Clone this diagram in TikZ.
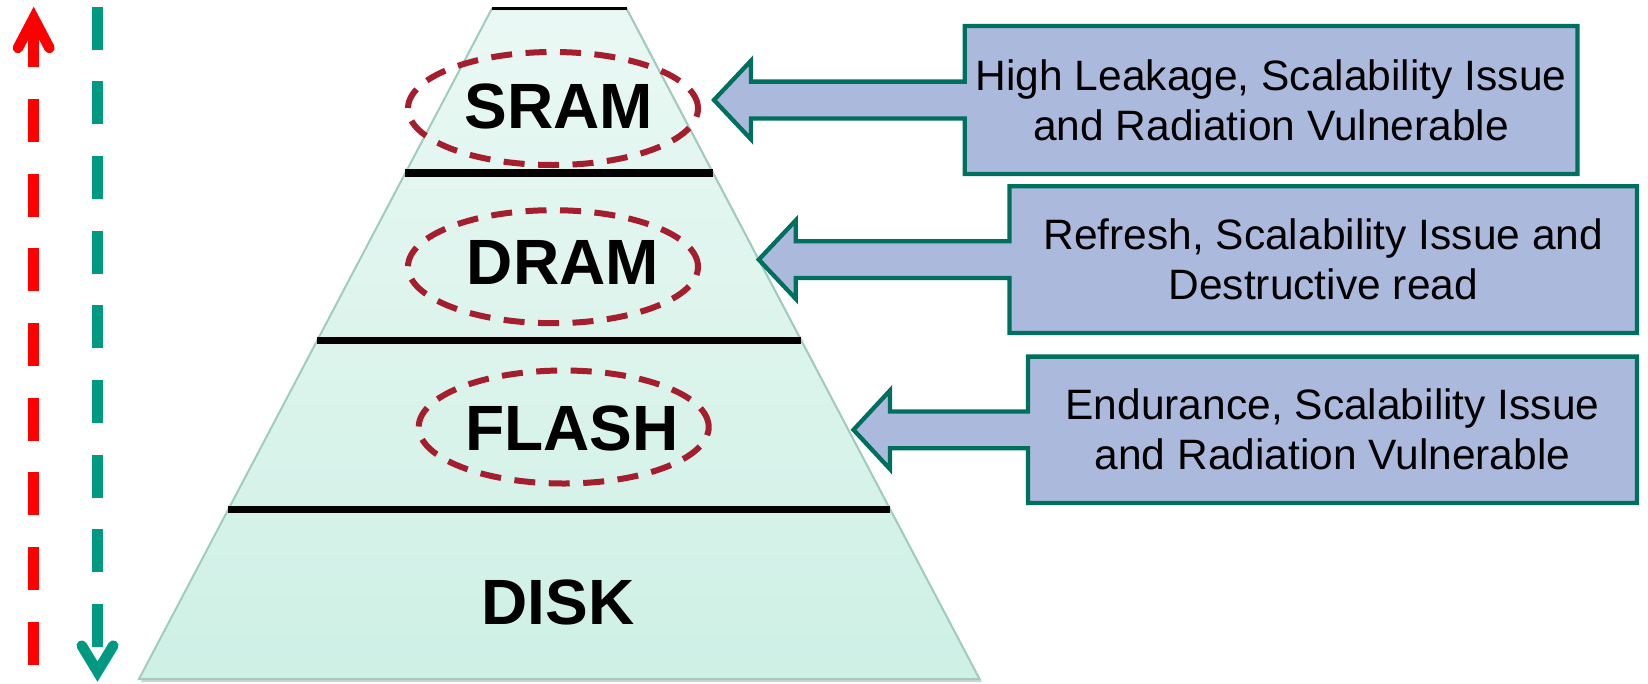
\documentclass[tikz,border=0pt]{standalone}
\usepackage{fontspec}
\setmainfont{Liberation Sans}
\usetikzlibrary{shapes.geometric,calc}

\definecolor{pyrtop}{RGB}{234,248,244}
\definecolor{pyrbot}{RGB}{206,240,229}
\definecolor{pyredge}{RGB}{160,204,190}
\definecolor{ringred}{RGB}{165,30,45}
\definecolor{boxfill}{RGB}{171,186,220}
\definecolor{boxline}{RGB}{0,112,94}
\definecolor{downteal}{RGB}{0,153,130}
\definecolor{upred}{RGB}{255,0,0}

\begin{document}
\begin{tikzpicture}[x=1pt,y=-1pt,
  level/.style={font=\fontsize{64}{64}\selectfont\bfseries, inner sep=0pt},
  ring/.style={ellipse, draw=ringred, line width=6pt, dash pattern=on 21pt off 13.5pt,
    minimum width=290pt, minimum height=113pt, inner sep=0pt},
  divider/.style={line width=7.5pt, draw=black},
  boxframe/.style={inner sep=0pt, minimum height=147pt},
  boxtext/.style={align=center, font=\fontsize{42.5}{50}\selectfont, inner sep=0pt},
  calloutline/.style={draw=boxline, fill=boxfill, line width=4.3pt, line join=miter},
  shaftline/.style={line width=10.5pt, dash pattern=on 43pt off 31.67pt},
  headline/.style={line width=10.5pt, line cap=round, line join=miter},
]
\useasboundingbox (0,0) rectangle (1648,683);

% pyramid body with a soft drop shadow
\fill[gray, opacity=0.35] (493.5,11) -- (629,11) -- (982,682) -- (141,682) -- cycle;
\shade[top color=pyrtop, bottom color=pyrbot, draw=pyredge, line width=2pt]
  (491.7,9) coordinate (ptl) -- (626.7,9) coordinate (ptr)
  -- (979.5,679) coordinate (pbr) -- (139,679) coordinate (pbl) -- cycle;

% level dividers
\draw[line width=3.7pt] (491.7,8.5) -- (626.7,8.5);
\draw[divider] (405.3,173) -- (713.1,173);
\draw[divider] (317,340.5) -- (801.4,340.5);
\draw[divider] (228,509.3) -- (890.4,509.3);

% level labels and highlight rings
\node[ring] (rs) at (553,108.5) {};
\node[ring] (rd) at (553,266.7) {};
\node[ring] (rf) at (563.7,427) {};
\node[level] (sram)  at (559,106.5) {SRAM};
\node[level] (dram)  at (562.9,262) {DRAM};
\node[level] (flash) at (572,428.3) {FLASH};
\node[level] (disk)  at (558,602) {DISK};

% side arrows: red pointing up, teal pointing down
\coordinate (redlow) at (33.7,664.6);
\coordinate (redhigh) at (33.7,24.3);
\draw[upred, shaftline] (redlow) -- (redhigh);
\coordinate (redtip) at (33.7,18);
\draw[upred, headline] (17.95,48) -- (redtip) -- (49.45,48);

\coordinate (tealhigh) at (97.5,6.7);
\coordinate (teallow) at (97.5,647);
\draw[downteal, shaftline] (tealhigh) -- (teallow);
\coordinate (tealtip) at (97.5,671.6);
\draw[downteal, headline] (81.75,645.6) -- (tealtip) -- (113.25,645.6);

% callout 1
\node[boxframe, minimum width=612.2pt, minimum height=147.6pt] (b1) at (1271.1,100) {};
\coordinate (t1) at (714,100);
\draw[calloutline] (b1.north west) -- (b1.north east) -- (b1.south east) -- (b1.south west)
  -- ([yshift=-18.4pt]b1.west) -- ([xshift=37pt,yshift=-18.4pt]t1)
  -- ([xshift=37pt,yshift=-39.3pt]t1) -- (t1)
  -- ([xshift=37pt,yshift=39.3pt]t1) -- ([xshift=37pt,yshift=18.4pt]t1)
  -- ([yshift=18.4pt]b1.west) -- cycle;
\node[boxtext] (b1t) at (b1.center) {High Leakage, Scalability Issue\\and Radiation Vulnerable};

% callout 2
\node[boxframe, minimum width=627.1pt, minimum height=146.4pt] (b2) at (1323.25,259.6) {};
\coordinate (t2) at (758.8,259.6);
\draw[calloutline] (b2.north west) -- (b2.north east) -- (b2.south east) -- (b2.south west)
  -- ([yshift=-18.4pt]b2.west) -- ([xshift=37pt,yshift=-18.4pt]t2)
  -- ([xshift=37pt,yshift=-39.3pt]t2) -- (t2)
  -- ([xshift=37pt,yshift=39.3pt]t2) -- ([xshift=37pt,yshift=18.4pt]t2)
  -- ([yshift=18.4pt]b2.west) -- cycle;
\node[boxtext] (b2t) at (b2.center) {Refresh, Scalability Issue and\\Destructive read};

% callout 3
\node[boxframe, minimum width=608.6pt, minimum height=146pt] (b3) at (1332.5,429.8) {};
\coordinate (t3) at (853.5,429.8);
\draw[calloutline] (b3.north west) -- (b3.north east) -- (b3.south east) -- (b3.south west)
  -- ([yshift=-18.4pt]b3.west) -- ([xshift=36.5pt,yshift=-18.4pt]t3)
  -- ([xshift=36.5pt,yshift=-39.3pt]t3) -- (t3)
  -- ([xshift=36.5pt,yshift=39.3pt]t3) -- ([xshift=36.5pt,yshift=18.4pt]t3)
  -- ([yshift=18.4pt]b3.west) -- cycle;
\node[boxtext] (b3t) at (b3.center) {Endurance, Scalability Issue\\and Radiation Vulnerable};
\end{tikzpicture}
\end{document}
